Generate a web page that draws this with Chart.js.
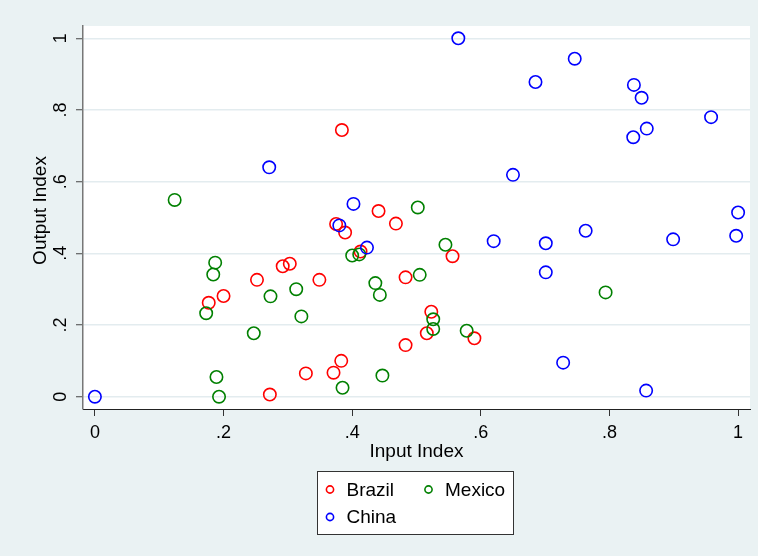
<!DOCTYPE html>
<html>
<head>
<meta charset="utf-8">
<script src="https://cdn.jsdelivr.net/npm/chart.js@4.4.1/dist/chart.umd.min.js"></script>
<style>
  html, body { margin: 0; padding: 0; background: #eaf2f3; }
  #wrap { width: 758px; height: 556px; }
  canvas { display: block; }
</style>
</head>
<body>
<div id="wrap"><canvas id="chart" width="758" height="556"></canvas></div>
<script>
// Country series: Input Index (x) and Output Index (y)
const brazilX = [0.384, 0.441, 0.375, 0.468, 0.389, 0.413, 0.556, 0.303, 0.292, 0.483, 0.252, 0.349, 0.200, 0.177, 0.523, 0.516, 0.590, 0.483, 0.383, 0.371, 0.328, 0.272];
const brazilY = [0.744, 0.518, 0.482, 0.483, 0.458, 0.405, 0.392, 0.371, 0.364, 0.333, 0.326, 0.326, 0.281, 0.262, 0.237, 0.177, 0.163, 0.144, 0.100, 0.067, 0.065, 0.006];

const mexicoX = [0.124, 0.502, 0.545, 0.400, 0.411, 0.187, 0.184, 0.505, 0.436, 0.313, 0.794, 0.443, 0.273, 0.173, 0.321, 0.526, 0.526, 0.578, 0.247, 0.447, 0.189, 0.385, 0.193];
const mexicoY = [0.549, 0.528, 0.424, 0.394, 0.397, 0.374, 0.341, 0.340, 0.317, 0.300, 0.291, 0.284, 0.280, 0.233, 0.224, 0.216, 0.189, 0.184, 0.177, 0.059, 0.055, 0.025, 0.000];

const chinaX = [0.565, 0.746, 0.685, 0.838, 0.850, 0.958, 0.858, 0.837, 0.271, 0.650, 0.402, 1.000, 0.380, 0.763, 0.997, 0.899, 0.620, 0.701, 0.423, 0.701, 0.728, 0.857, 0.000];
const chinaY = [1.000, 0.943, 0.878, 0.870, 0.834, 0.780, 0.748, 0.724, 0.640, 0.619, 0.538, 0.514, 0.478, 0.463, 0.449, 0.439, 0.434, 0.428, 0.416, 0.347, 0.095, 0.017, 0.000];

const countries = ['Brazil', 'Mexico', 'China'];
const xTicks = [0, 0.2, 0.4, 0.6, 0.8, 1];
const yTicks = [0, 0.2, 0.4, 0.6, 0.8, 1];
const xTitle = 'Input Index';
const yTitle = 'Output Index';

const FONT = "'Liberation Sans', Arial, sans-serif";
Chart.defaults.font.family = FONT;
Chart.defaults.color = '#000';

function pairs(xs, ys) { return xs.map((x, i) => ({ x: x, y: ys[i] })); }
function fmt(v) {
  if (v === 0) return '0';
  if (v === 1) return '1';
  return v.toFixed(1).replace(/^0/, '');
}

const seriesColors = ['#ff0000', '#008000', '#0000ff'];
const seriesData = [pairs(brazilX, brazilY), pairs(mexicoX, mexicoY), pairs(chinaX, chinaY)];

// white plot region behind the grid
const plotBackground = {
  id: 'plotBackground',
  beforeDraw(chart) {
    const { ctx, chartArea: a } = chart;
    ctx.save();
    ctx.fillStyle = '#ffffff';
    ctx.fillRect(a.left, a.top, a.right - a.left, a.bottom - a.top);
    ctx.restore();
  }
};

// rotated y tick labels, y axis title and the boxed legend
const decorations = {
  id: 'decorations',
  afterDraw(chart) {
    const { ctx } = chart;
    const ys = chart.scales.y;
    ctx.save();
    ctx.fillStyle = '#000';
    ctx.textAlign = 'center';
    ctx.textBaseline = 'middle';
    ctx.font = '18px ' + FONT;
    ys.ticks.forEach(t => {
      const py = ys.getPixelForValue(t.value);
      ctx.save();
      ctx.translate(60, py);
      ctx.rotate(-Math.PI / 2);
      ctx.fillText(fmt(t.value), 0, 1);
      ctx.restore();
    });
    ctx.font = '19px ' + FONT;
    ctx.save();
    ctx.translate(39.5, 210.5);
    ctx.rotate(-Math.PI / 2);
    ctx.fillText(yTitle, 0, 1);
    ctx.restore();

    // legend box
    const bx = 317.5, by = 471.5, bw = 196, bh = 63;
    ctx.fillStyle = '#ffffff';
    ctx.fillRect(bx, by, bw, bh);
    ctx.strokeStyle = '#333333';
    ctx.lineWidth = 1;
    ctx.strokeRect(bx, by, bw, bh);
    const slots = [
      { mx: 330, tx: 346.5, y: 489.5 },
      { mx: 428.5, tx: 445, y: 489.5 },
      { mx: 330, tx: 346.5, y: 517 }
    ];
    chart.data.datasets.forEach((ds, i) => {
      const s = slots[i];
      ctx.beginPath();
      ctx.arc(s.mx, s.y, 3.6, 0, Math.PI * 2);
      ctx.strokeStyle = ds.borderColor;
      ctx.lineWidth = 1.6;
      ctx.stroke();
      ctx.fillStyle = '#000';
      ctx.textAlign = 'left';
      ctx.textBaseline = 'middle';
      ctx.font = '19px ' + FONT;
      ctx.fillText(ds.label, s.tx, s.y + 1);
    });
    ctx.restore();
  }
};

new Chart(document.getElementById('chart'), {
  type: 'scatter',
  data: {
    datasets: countries.map((name, i) => ({
      label: name,
      data: seriesData[i],
      borderColor: seriesColors[i],
      backgroundColor: 'rgba(0,0,0,0)',
      pointRadius: 6.2,
      pointHoverRadius: 6.2,
      pointBorderWidth: 1.6,
      order: 3 - i
    }))
  },
  options: {
    responsive: false,
    devicePixelRatio: 1,
    animation: false,
    events: [],
    layout: { padding: { left: 0, top: 26, right: 8, bottom: 95 } },
    plugins: { legend: { display: false }, tooltip: { enabled: false } },
    scales: {
      x: {
        type: 'linear',
        min: -0.0185,
        max: 1.0185,
        afterBuildTicks: s => { s.ticks = xTicks.map(v => ({ value: v })); },
        afterFit: s => { s.height = 52; },
        ticks: {
          callback: v => fmt(v),
          font: { size: 18, lineHeight: 1 },
          color: '#000',
          padding: 8,
          maxRotation: 0,
          minRotation: 0,
          autoSkip: false
        },
        grid: {
          drawOnChartArea: false,
          drawTicks: true,
          tickLength: 7,
          tickColor: '#333',
          tickWidth: 1
        },
        border: { display: true, color: '#222', width: 1 },
        title: {
          display: true,
          text: xTitle,
          font: { size: 19, lineHeight: 1 },
          color: '#000',
          padding: { top: 0, bottom: 0 }
        }
      },
      y: {
        type: 'linear',
        min: -0.0343,
        max: 1.0343,
        afterBuildTicks: s => { s.ticks = yTicks.map(v => ({ value: v })); },
        afterFit: s => { s.width = 83; },
        ticks: { display: false },
        grid: {
          color: '#e3ecef',
          lineWidth: 1.5,
          drawTicks: true,
          tickLength: 7,
          tickColor: '#444',
          tickWidth: 1
        },
        border: { display: true, color: '#777', width: 1.5 }
      }
    }
  },
  plugins: [plotBackground, decorations]
});
</script>
</body>
</html>
